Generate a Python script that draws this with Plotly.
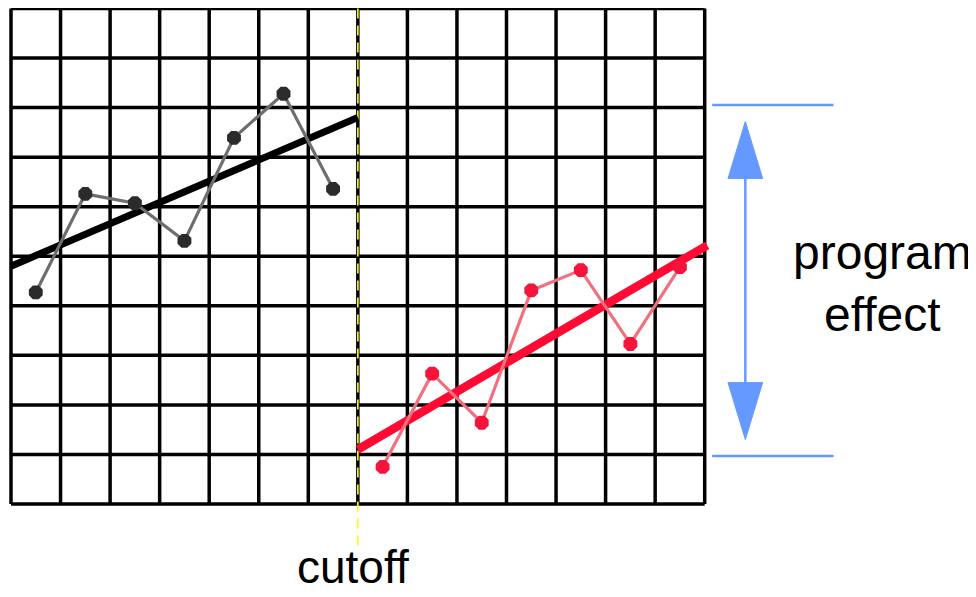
import plotly.graph_objects as go

# ---- data (grid units) ----
n_cols = 14
n_rows = 10
cutoff = 7

pre_x = [0.5, 1.5, 2.5, 3.5, 4.5, 5.5, 6.5]
pre_y = [4.27, 6.26, 6.07, 5.31, 7.39, 8.28, 6.36]
pre_fit_x = [0, 7]
pre_fit_y = [4.8, 7.8]

post_x = [7.5, 8.5, 9.5, 10.5, 11.5, 12.5, 13.5]
post_y = [0.75, 2.63, 1.64, 4.31, 4.72, 3.23, 4.78]
post_fit_x = [7, 14.05]
post_fit_y = [1.1, 5.22]

effect_top = 8.05
effect_bottom = 0.97

# page body has an 8px margin; figure is sized to fill the rest of the window
PAGE_PAD = 8
W, H = 976 - PAGE_PAD, 597 - PAGE_PAD
scale = 49.55                                 # px per grid unit
x0_px, y0_px = 11 - PAGE_PAD, 504 - PAGE_PAD  # pixel of data origin in the figure

xr = [-x0_px / scale, (W - x0_px) / scale]
yr = [(y0_px - H) / scale, y0_px / scale]

fig = go.Figure()

# grid
gx, gy = [], []
for i in range(n_cols + 1):
    gx += [i, i, None]
    gy += [0, n_rows, None]
for j in range(n_rows + 1):
    gx += [0, n_cols, None]
    gy += [j, j, None]
fig.add_trace(go.Scatter(x=gx, y=gy, mode="lines",
                         line=dict(color="black", width=3.5), hoverinfo="skip"))

# cutoff line
fig.add_trace(go.Scatter(x=[cutoff, cutoff], y=[n_rows, -0.83], mode="lines",
                         line=dict(color="#ffff00", width=1.6, dash="10px,7px"), hoverinfo="skip"))

# pre-cutoff
fig.add_trace(go.Scatter(x=pre_fit_x, y=pre_fit_y, mode="lines",
                         line=dict(color="black", width=7)))
fig.add_trace(go.Scatter(x=pre_x, y=pre_y, mode="lines+markers",
                         line=dict(color="#6e6e6e", width=3.2),
                         marker=dict(color="#2b2b2b", size=15, symbol="octagon")))

# post-cutoff
fig.add_trace(go.Scatter(x=post_fit_x, y=post_fit_y, mode="lines",
                         line=dict(color="#ff0a33", width=8.5)))
fig.add_trace(go.Scatter(x=post_x, y=post_y, mode="lines+markers",
                         line=dict(color="#f2707e", width=3.2),
                         marker=dict(color="#f5143c", size=15, symbol="octagon")))

# program effect bracket
blue = "#6699ff"
bx0, bx1 = 14.15, 16.6
ax = 14.82
fig.add_trace(go.Scatter(x=[bx0, bx1, None, bx0, bx1],
                         y=[effect_top, effect_top, None, effect_bottom, effect_bottom],
                         mode="lines", line=dict(color=blue, width=2.5)))
tip_off = 0.33
head_len = 1.15
half_w = 0.35
top_tip = effect_top - tip_off
bot_tip = effect_bottom + tip_off
fig.add_trace(go.Scatter(x=[ax, ax], y=[top_tip - head_len, bot_tip + head_len], mode="lines",
                         line=dict(color=blue, width=2.5)))
fig.add_trace(go.Scatter(x=[ax - half_w, ax, ax + half_w, ax - half_w],
                         y=[top_tip - head_len, top_tip, top_tip - head_len, top_tip - head_len],
                         mode="lines", fill="toself", fillcolor=blue, line=dict(color=blue, width=1)))
fig.add_trace(go.Scatter(x=[ax - half_w, ax, ax + half_w, ax - half_w],
                         y=[bot_tip + head_len, bot_tip, bot_tip + head_len, bot_tip + head_len],
                         mode="lines", fill="toself", fillcolor=blue, line=dict(color=blue, width=1)))

font = dict(family="Liberation Sans, Arial, sans-serif", size=48, color="black")
fig.add_annotation(x=17.58, y=4.46, text="program<br>effect", showarrow=False,
                   font=font, xanchor="center", yanchor="middle")
fig.add_annotation(x=6.9, y=-1.28, text="cutoff", showarrow=False,
                   font=dict(family=font["family"], size=46, color="black"),
                   xanchor="center", yanchor="middle")

fig.update_layout(
    width=W, height=H,
    margin=dict(l=0, r=0, t=0, b=0),
    paper_bgcolor="white", plot_bgcolor="white",
    showlegend=False,
    xaxis=dict(range=xr, visible=False, fixedrange=True),
    yaxis=dict(range=yr, visible=False, fixedrange=True),
)

fig.write_html("out.html")
